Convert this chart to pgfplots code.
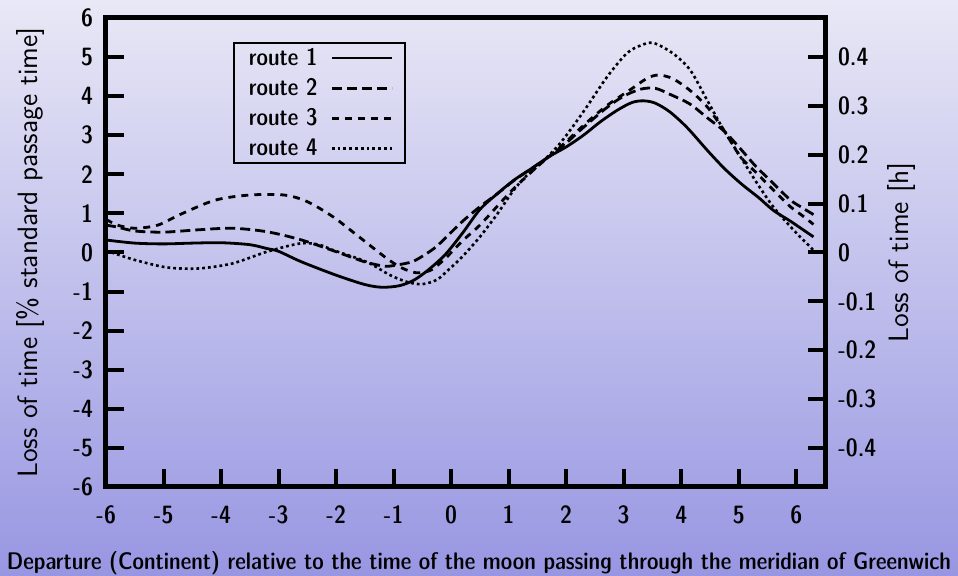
\documentclass[border=0pt]{standalone}
\usepackage{pgfplots}
\pgfplotsset{compat=1.18}
\newcommand\demi{\fontfamily{lmss}\fontseries{sbc}\fontshape{n}\selectfont}
\newcommand\lmsans{\fontfamily{lmss}\fontseries{m}\fontshape{n}\selectfont}
\definecolor{bgtop}{RGB}{232,232,246}
\definecolor{bgbot}{RGB}{152,150,226}
\begin{document}
\begin{tikzpicture}
\shade[top color=bgtop, bottom color=bgbot] (-53pt,-44.5pt) rectangle (426pt,243.5pt);
\begin{axis}[
  at={(0pt,0pt)}, anchor=south west,
  scale only axis, width=359.5pt, height=234.5pt,
  xmin=-6, xmax=6.5, ymin=-6, ymax=6,
  axis background/.style={fill=none},
  axis line style={line width=2.5pt, black},
  tick align=inside,
  xtick pos=bottom, ytick pos=left,
  major tick length=9pt,
  major tick style={line width=2pt, black},
  xtick={-6,-5,-4,-3,-2,-1,0,1,2,3,4,5,6},
  xticklabels={-6,-5,-4,-3,-2,-1,0,1,2,3,4,5,6},
  ytick={-6,-5,-4,-3,-2,-1,0,1,2,3,4,5,6},
  yticklabels={-6,-5,-4,-3,-2,-1,0,1,2,3,4,5,6},
  tick label style={font=\demi\fontsize{12.5}{14}\selectfont},
  xticklabel style={yshift=-6pt},
  yticklabel style={xshift=-3pt},
  xlabel={Departure (Continent) relative to the time of the moon passing through the meridian of Greenwich},
  xlabel style={at={(axis description cs:0.5188,-0.162)}, anchor=center, inner sep=0pt, font=\demi\fontsize{12}{14}\selectfont},
  ylabel={Loss of time [\% standard passage time]},
  ylabel style={at={(axis description cs:-0.1057,0.5)}, anchor=center, inner sep=0pt, font=\lmsans\fontsize{14}{16}\selectfont},
  legend plot pos=right,
  legend cell align=left,
  legend image code/.code={\draw[#1] (0pt,0pt) -- (30pt,0pt);},
  legend style={at={(axis description cs:0.1766,0.949)}, anchor=north west,
    draw=black, line width=1pt, fill=none, inner xsep=6pt, inner ysep=1pt,
    column sep=5pt, row sep=2.1pt,
    font=\demi\fontsize{12}{14}\selectfont, nodes={inner sep=1.5pt}},
]
\addplot[black, line width=1.4pt, smooth] coordinates {
(-6.0,0.32) (-5.5,0.24) (-5.0,0.22) (-4.5,0.24) (-4.0,0.25) (-3.5,0.2) (-3.2,0.1) (-3.0,0.03)
(-2.6,-0.24) (-2.0,-0.58) (-1.5,-0.82) (-1.2,-0.89) (-0.9,-0.85) (-0.65,-0.71) (-0.4,-0.45)
(-0.1,-0.05) (0.2,0.5) (0.5,1.1) (0.8,1.5) (1.1,1.86) (1.4,2.15) (1.7,2.45) (2.0,2.7)
(2.3,3.0) (2.6,3.35) (2.9,3.65) (3.15,3.84) (3.35,3.88) (3.55,3.82) (3.8,3.6) (4.1,3.2)
(4.45,2.62) (4.75,2.15) (5.05,1.75) (5.35,1.4) (5.6,1.08) (5.9,0.8) (6.1,0.6) (6.3,0.4)
};
\addlegendentry{route 1}
\addplot[black, line width=1.4pt, smooth, dash pattern=on 5pt off 2.5pt] coordinates {
(-6.0,0.7) (-5.8,0.65) (-5.5,0.55) (-5.0,0.52) (-4.4,0.58) (-3.8,0.62) (-3.2,0.53) (-2.6,0.32)
(-2.0,0.02) (-1.5,-0.24) (-1.15,-0.35) (-0.95,-0.32) (-0.65,-0.22) (-0.3,0.1) (-0.08,0.4)
(0.2,0.8) (0.5,1.17) (0.8,1.5) (1.1,1.85) (1.4,2.15) (1.7,2.45) (2.0,2.8) (2.3,3.2) (2.7,3.7)
(3.0,4.0) (3.3,4.18) (3.55,4.2) (3.8,4.05) (4.15,3.8) (4.45,3.45) (4.75,3.1) (5.05,2.62)
(5.3,2.2) (5.6,1.77) (5.9,1.34) (6.1,1.15) (6.3,0.97)
};
\addlegendentry{route 2}
\addplot[black, line width=1.4pt, smooth, dash pattern=on 3.5pt off 3pt] coordinates {
(-6.0,0.85) (-5.8,0.7) (-5.5,0.62) (-5.1,0.7) (-4.7,0.98) (-4.1,1.34) (-3.5,1.47) (-2.9,1.47)
(-2.5,1.3) (-2.05,0.91) (-1.6,0.4) (-1.12,-0.15) (-0.85,-0.4) (-0.6,-0.52) (-0.35,-0.45)
(-0.1,-0.15) (0.2,0.3) (0.5,0.7) (0.85,1.26) (1.1,1.65) (1.5,2.2) (1.9,2.7) (2.3,3.25)
(2.7,3.75) (3.1,4.15) (3.4,4.45) (3.6,4.54) (3.85,4.45) (4.15,4.15) (4.45,3.73) (4.74,3.13)
(5.03,2.45) (5.32,2.02) (5.6,1.6) (5.9,1.17) (6.1,0.95) (6.3,0.72)
};
\addlegendentry{route 3}
\addplot[black, line width=1.3pt, smooth, dash pattern=on 1.4pt off 1.5pt] coordinates {
(-6.0,0.05) (-5.9,0.0) (-5.5,-0.19) (-4.95,-0.38) (-4.4,-0.41) (-3.8,-0.28) (-3.2,0.02)
(-2.63,0.23) (-2.3,0.2) (-2.05,0.06) (-1.47,-0.24) (-1.06,-0.58) (-0.75,-0.76) (-0.5,-0.81)
(-0.25,-0.7) (-0.05,-0.45) (0.2,-0.1) (0.5,0.4) (0.8,0.98) (1.08,1.58) (1.3,1.95) (1.5,2.2)
(1.84,2.7) (2.07,3.13) (2.36,3.73) (2.71,4.49) (3.05,5.09) (3.3,5.3) (3.52,5.36) (3.86,5.09)
(4.16,4.66) (4.45,3.9) (4.74,3.13) (5.03,2.45) (5.32,1.77) (5.6,1.17) (5.9,0.66) (6.1,0.35)
(6.24,0.15) (6.3,0.05)
};
\addlegendentry{route 4}
\end{axis}
\begin{axis}[
  at={(0pt,0pt)}, anchor=south west,
  scale only axis, width=359.5pt, height=234.5pt,
  xmin=-6, xmax=6.5, ymin=-0.48, ymax=0.48,
  axis x line=none, axis y line*=right,
  axis background/.style={fill=none},
  axis line style={line width=2.5pt, black, -},
  tick align=inside,
  major tick length=8.5pt,
  major tick style={line width=2pt, black},
  ytick={-0.4,-0.3,-0.2,-0.1,0,0.1,0.2,0.3,0.4},
  yticklabels={-0.4,-0.3,-0.2,-0.1,0,0.1,0.2,0.3,0.4},
  tick label style={font=\demi\fontsize{12.5}{14}\selectfont},
  yticklabel style={xshift=3pt},
  ylabel={Loss of time [h]},
  ylabel style={at={(axis description cs:1.1057,0.5)}, anchor=center, inner sep=0pt, font=\lmsans\fontsize{14}{16}\selectfont},
]
\addplot[draw=none] coordinates {(0,0)};
\end{axis}
\pgfresetboundingbox
\path[use as bounding box] (-53pt,-44.5pt) rectangle (426pt,243.5pt);
\end{tikzpicture}
\end{document}
